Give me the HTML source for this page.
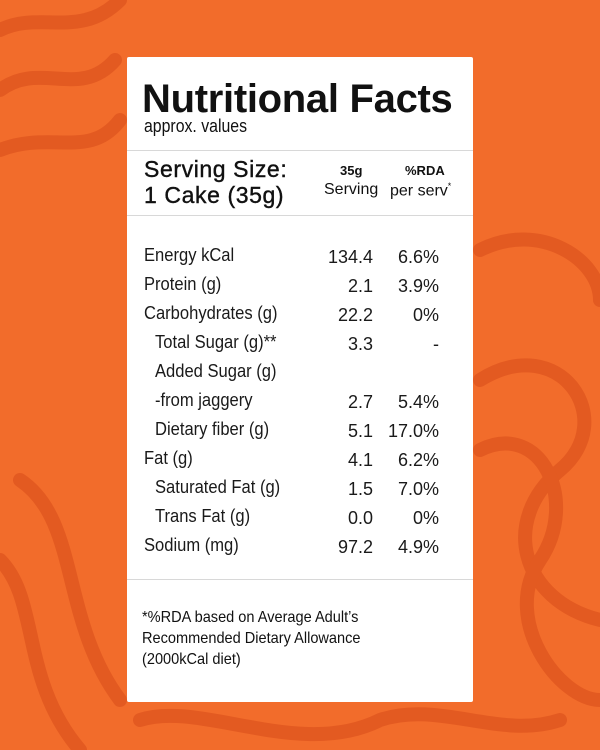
<!DOCTYPE html>
<html><head><meta charset="utf-8"><style>
body{margin:0;width:600px;height:750px;overflow:hidden;background:#F26C2B;position:relative;font-family:"Liberation Sans",sans-serif;}
svg.bg{position:absolute;left:0;top:0}
.card{position:absolute;left:127px;top:57px;width:346px;height:645px;background:#fff;border-radius:2px}
.t{position:absolute;white-space:nowrap;color:#111;transform-origin:0 0}
.hr{position:absolute;left:0;width:346px;height:1px;background:#d8d8d8}
.row{position:absolute;left:0;width:346px;height:24px;font-size:18px;color:#1a1a1a}
.row .l{position:absolute;left:17px;top:0;transform:scaleX(0.92);transform-origin:0 0;white-space:nowrap}
.row .v{position:absolute;right:100px;top:2px;text-align:right}
.row .p{position:absolute;right:34px;top:2px;text-align:right}
.row.i .l{left:28px}
</style></head><body>
<svg class="bg" width="600" height="750" fill="none" stroke="#E35A21" stroke-width="14" stroke-linecap="round">
<path d="M0 30 C40 10 80 40 120 0"/>
<path d="M0 90 C40 60 80 100 115 60"/>
<path d="M0 150 C50 130 90 160 120 120"/>
<path d="M480 380 C560 330 620 420 560 470 C500 520 520 600 600 620"/>
<path d="M480 450 C540 420 580 500 540 560 C500 620 560 700 600 700"/>
<path d="M0 560 C40 600 20 680 80 750"/>
<path d="M20 480 C80 520 60 620 120 700"/>
<path d="M140 720 C200 700 300 760 380 720 C440 700 500 740 560 720"/>
<path d="M480 250 C540 220 600 260 600 300"/>
</svg>
<div class="card">
<div class="t" style="left:15px;top:20px;font-weight:bold;font-size:40px;letter-spacing:-0.3px">Nutritional Facts</div>
<div class="t" style="left:17px;top:59px;font-size:18px;transform:scaleX(0.88)">approx. values</div>
<div class="hr" style="top:93px"></div>
<div class="t" style="left:17px;top:99px;font-size:23px;font-weight:500;letter-spacing:0.6px;-webkit-text-stroke:0.4px #111">Serving Size:</div>
<div class="t" style="left:17px;top:125px;font-size:23px;letter-spacing:0.6px;-webkit-text-stroke:0.4px #111">1 Cake (35g)</div>
<div class="t" style="left:213px;top:106px;font-size:13px;font-weight:bold">35g</div>
<div class="t" style="left:197px;top:124px;font-size:16px">Serving</div>
<div class="t" style="left:278px;top:106px;font-size:13px;font-weight:bold">%RDA</div>
<div class="t" style="left:263px;top:124px;font-size:16px">per serv<sup style="font-size:9px">*</sup></div>
<div class="hr" style="top:158px"></div>
<div class="row" style="top:188px"><span class="l">Energy kCal</span><span class="v">134.4</span><span class="p">6.6%</span></div>
<div class="row" style="top:217px"><span class="l">Protein (g)</span><span class="v">2.1</span><span class="p">3.9%</span></div>
<div class="row" style="top:246px"><span class="l">Carbohydrates (g)</span><span class="v">22.2</span><span class="p">0%</span></div>
<div class="row i" style="top:275px"><span class="l">Total Sugar (g)**</span><span class="v">3.3</span><span class="p">-</span></div>
<div class="row i" style="top:304px"><span class="l">Added Sugar (g)</span></div>
<div class="row i" style="top:333px"><span class="l">-from jaggery</span><span class="v">2.7</span><span class="p">5.4%</span></div>
<div class="row i" style="top:362px"><span class="l">Dietary fiber (g)</span><span class="v">5.1</span><span class="p">17.0%</span></div>
<div class="row" style="top:391px"><span class="l">Fat (g)</span><span class="v">4.1</span><span class="p">6.2%</span></div>
<div class="row i" style="top:420px"><span class="l">Saturated Fat (g)</span><span class="v">1.5</span><span class="p">7.0%</span></div>
<div class="row i" style="top:449px"><span class="l">Trans Fat (g)</span><span class="v">0.0</span><span class="p">0%</span></div>
<div class="row" style="top:478px"><span class="l">Sodium (mg)</span><span class="v">97.2</span><span class="p">4.9%</span></div>
<div class="hr" style="top:522px"></div>
<div class="t" style="left:15px;top:550px;font-size:16px;line-height:21px;transform:scaleX(0.91)">*%RDA based on Average Adult’s<br>Recommended Dietary Allowance<br>(2000kCal diet)</div>
</div>
</body></html>
